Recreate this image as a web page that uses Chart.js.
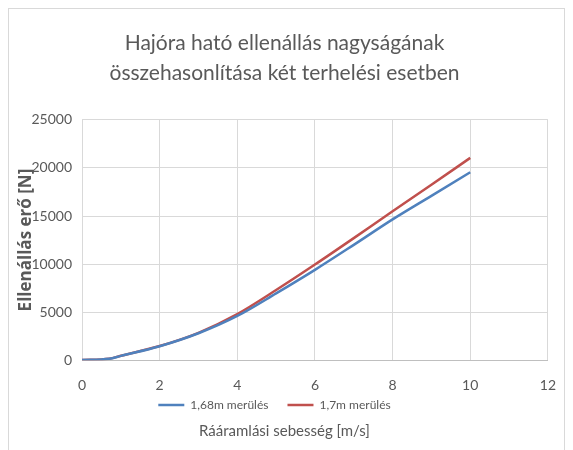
<!DOCTYPE html>
<html>
<head>
<meta charset="utf-8">
<script src="https://cdn.jsdelivr.net/npm/chart.js@4"></script>
<style>
  body { margin: 0; background: #fff; }
  #wrap { position: relative; width: 573px; height: 450px; }
  #frame { position: absolute; left: 8px; top: 8px; width: 557px; height: 450px; border: 1px solid #d9d9d9; box-sizing: border-box; }
</style>
</head>
<body>
<div id="wrap">
  <div id="frame"></div>
  <canvas id="chart" width="573" height="450"></canvas>
</div>
<script>
var speeds = [0, 0.7, 1, 2, 3, 4, 5, 6, 7, 8, 9, 10];
var draft168 = [20, 150, 450, 1450, 2800, 4600, 6950, 9400, 12000, 14650, 17100, 19550];
var draft170 = [20, 150, 460, 1470, 2850, 4800, 7300, 9950, 12700, 15500, 18250, 21050];
var seriesNames = ['1,68m merülés', '1,7m merülés'];
var xTicks = [0, 2, 4, 6, 8, 10, 12];
var yTicks = [0, 5000, 10000, 15000, 20000, 25000];

var font = 'Lato, "Open Sans", sans-serif';
var gray = '#595959';

function points(xs, ys){
    return xs.map(function(x, i){ return {x: x, y: ys[i]}; });
}

// legend and axis title sit a bit left of centre in the original
var shiftBottom = {
    id: 'shiftBottom',
    afterLayout: function(chart){
        chart.legend.left -= 10; chart.legend.right -= 10;
        chart.subtitleBlock && (chart.subtitleBlock.left -= 9, chart.subtitleBlock.right -= 9);
    }
};

var ctx = document.getElementById('chart').getContext('2d');
new Chart(ctx, {
    type: 'line',
    data: {
        datasets: [
            {label: seriesNames[0], data: points(speeds, draft168), borderColor: '#4f81bd', backgroundColor: '#4f81bd', borderWidth: 2.5, pointRadius: 0, cubicInterpolationMode: 'monotone'},
            {label: seriesNames[1], data: points(speeds, draft170), borderColor: '#c0504d', backgroundColor: '#c0504d', borderWidth: 2.5, pointRadius: 0, cubicInterpolationMode: 'monotone'}
        ]
    },
    options: {
        responsive: false,
        animation: false,
        layout: {padding: {left: 16, right: 20, top: 28, bottom: 10}},
        plugins: {
            title: {
                display: true,
                text: ['Hajóra ható ellenállás nagyságának', 'összehasonlítása két terhelési esetben'],
                color: gray,
                font: {family: font, size: 21, weight: 'normal', lineHeight: 1.45},
                padding: {top: 0, bottom: 31}
            },
            subtitle: {
                display: true,
                position: 'bottom',
                text: 'Rááramlási sebesség [m/s]',
                color: gray,
                font: {family: font, size: 15, weight: 'normal'},
                padding: {top: 1, bottom: 0}
            },
            legend: {
                position: 'bottom',
                labels: {
                    color: gray,
                    font: {family: font, size: 12},
                    usePointStyle: true,
                    pointStyle: 'line',
                    pointStyleWidth: 26,
                    boxHeight: 12,
                    padding: 7,
                    generateLabels: function(chart){
                        var items = Chart.defaults.plugins.legend.labels.generateLabels(chart);
                        items[0].text += '\u2002\u2002';
                        return items;
                    }
                }
            },
            tooltip: {enabled: false}
        },
        scales: {
            x: {
                type: 'linear',
                min: 0,
                max: 12,
                afterBuildTicks: function(axis){ axis.ticks = xTicks.map(function(v){ return {value: v}; }); },
                afterFit: function(axis){ axis.height -= 19; },
                ticks: {color: gray, font: {family: font, size: 14}, padding: 17},
                grid: {color: '#d9d9d9', drawTicks: false},
                border: {color: '#bfbfbf'}
            },
            y: {
                min: 0,
                max: 25000,
                afterBuildTicks: function(axis){ axis.ticks = yTicks.map(function(v){ return {value: v}; }); },
                afterFit: function(axis){ axis.width = 66; },
                ticks: {color: gray, font: {family: font, size: 14}, padding: 10, callback: function(v){ return String(v); }},
                grid: {color: '#d9d9d9', drawTicks: false},
                border: {display: false},
                title: {display: true, text: 'Ellenállás erő [N]', color: gray, font: {family: '"Open Sans", sans-serif', size: 17, weight: 'bold'}, padding: {top: 0, bottom: 0}}
            }
        }
    },
    plugins: [shiftBottom]
});
</script>
</body>
</html>
